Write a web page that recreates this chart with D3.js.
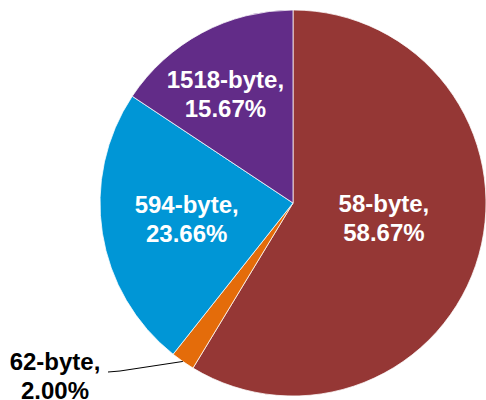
<!DOCTYPE html>
<html>
<head>
<meta charset="utf-8">
<script src="https://cdn.jsdelivr.net/npm/d3@7"></script>
<style>
  body { margin: 0; background: #fff; }
  svg { display: block; }
</style>
</head>
<body>
<div class="chart"></div>
<script>
var svgWidth = 486;
var svgHeight = 400;

// data
var categories = ["58-byte", "62-byte", "594-byte", "1518-byte"];
var shares = [58.67, 2.00, 23.66, 15.67];
var colors = ["#953735", "#E46C0A", "#0096D6", "#622C88"];

var cx = 293, cy = 203, radius = 193;

var svg = d3.select(".chart")
  .append("svg")
  .attr("width", svgWidth)
  .attr("height", svgHeight);

var pieData = categories.map(function(c, i) {
  return { name: c, value: shares[i], color: colors[i] };
});

var pie = d3.pie()
  .sort(null)
  .value(d => d.value);

var arc = d3.arc()
  .innerRadius(0)
  .outerRadius(radius);

// arc used to place labels (half radius), then nudged like Excel's best fit
var labelArc = d3.arc()
  .innerRadius(radius * 0.5)
  .outerRadius(radius * 0.5);

var chartGroup = svg.append("g")
  .attr("transform", `translate(${cx}, ${cy})`);

var arcs = pie(pieData);

chartGroup.selectAll("path")
  .data(arcs)
  .enter()
  .append("path")
  .attr("d", arc)
  .attr("fill", d => d.data.color)
  .attr("stroke", "#fff")
  .attr("stroke-width", 0.75);

var nudge = { "58-byte": [-2, -11], "594-byte": [-11, 1], "1518-byte": [-22, -24] };

function addLabel(x, y, lines, fill) {
  var t = chartGroup.append("text")
    .attr("x", x)
    .attr("y", y)
    .attr("text-anchor", "middle")
    .style("font-family", "Liberation Sans, Arial, sans-serif")
    .style("font-weight", "bold")
    .style("font-size", "24px")
    .style("fill", fill);
  t.append("tspan").attr("x", x).attr("dy", 0).text(lines[0]);
  t.append("tspan").attr("x", x).attr("dy", 29).text(lines[1]);
}

arcs.forEach(function(d) {
  var name = d.data.name;
  var lines = [name + ",", d.data.value.toFixed(2) + "%"];

  if (nudge[name]) {
    var c = labelArc.centroid(d);
    addLabel(c[0] + nudge[name][0], c[1] + nudge[name][1] - 6, lines, "#fff");
  } else {
    // small slice: label outside, leader line to the slice edge
    var mid = (d.startAngle + d.endAngle) / 2;
    var ex = Math.sin(mid) * radius;
    var ey = -Math.cos(mid) * radius;
    var lx = 55 - cx, ly = 370 - cy;
    chartGroup.append("polyline")
      .attr("points", [[lx + 53, ly + 2], [lx + 65, ly + 1], [ex, ey]].map(p => p.join(",")).join(" "))
      .attr("fill", "none")
      .attr("stroke", "#000")
      .attr("stroke-width", 1);
    addLabel(lx, ly, lines, "#000");
  }
});
</script>
</body>
</html>
